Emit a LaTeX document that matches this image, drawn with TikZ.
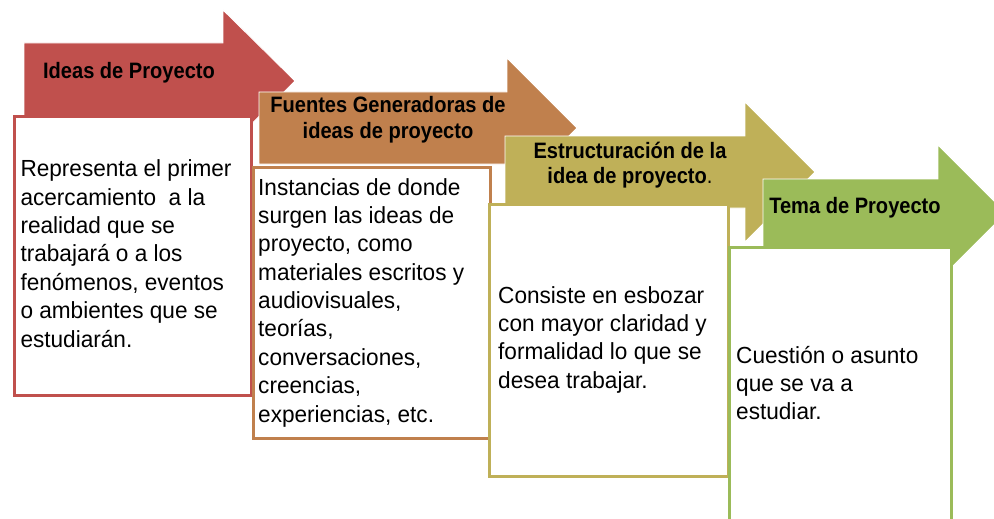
\documentclass[tikz,border=0pt]{standalone}
\usepackage{fontspec}
\setmainfont{Liberation Sans}
\newfontfamily\headfont{Liberation Sans}[FakeStretch=0.9]
\newfontfamily\bodyfont{Liberation Sans}[FakeStretch=0.97]
\definecolor{cA}{HTML}{C0504D}
\definecolor{cB}{HTML}{C0804D}
\definecolor{cC}{HTML}{BFB058}
\definecolor{cD}{HTML}{9BBB59}
\newcommand\bodytext[1]{\parbox[t]{240pt}{\bodyfont\fontsize{23.3}{28.4}\selectfont\raggedright #1}}
\newcommand\headtext[1]{\parbox[t]{300pt}{\headfont\fontsize{22.3}{25.5}\selectfont\bfseries\centering #1}}
\begin{document}
\begin{tikzpicture}[x=1pt,y=-1pt,
  arrowshape/.style={fill=#1, draw=white, line width=0.8pt},
  textbox/.style={draw=#1, fill=white, line width=2.6pt, inner sep=0pt, anchor=north west},
  bodynode/.style={anchor=base west, inner sep=0pt},
  headnode/.style={anchor=base, inner sep=0pt}]
\useasboundingbox (0,0) rectangle (994,519);
\clip (0,0) rectangle (994,519);
% step 1
\path[arrowshape=cA] (24,43) -- (223,43) -- (223,10) -- (295,81) -- (223,152) -- (223,119) -- (24,119) -- cycle;
\node[textbox=cA, minimum width=237pt, minimum height=279pt] (box1) at (13,115) {};
\node[headnode] (h1) at (129,79) {\headtext{Ideas de Proyecto}};
\node[bodynode] (t1) at (20.3,176.7) {\bodytext{Representa el primer\\acercamiento \ a la\\realidad que se\\trabajará o a los\\fenómenos, eventos\\o ambientes que se\\estudiarán.}};
% step 2
\path[arrowshape=cB] (259,92) -- (507,92) -- (507,58) -- (577,128) -- (507,198) -- (507,164) -- (259,164) -- cycle;
\node[textbox=cB, minimum width=237pt, minimum height=271pt] (box2) at (252,166) {};
\node[headnode] (h2) at (388,113) {\headtext{Fuentes Generadoras de\\ideas de proyecto}};
\node[bodynode] (t2) at (258,195) {\bodytext{Instancias de donde\\surgen las ideas de\\proyecto, como\\materiales escritos y\\audiovisuales,\\teorías,\\conversaciones,\\creencias,\\experiencias, etc.}};
% step 3
\path[arrowshape=cC] (505,136) -- (745,136) -- (745,102) -- (815,172) -- (745,242) -- (745,208) -- (505,208) -- cycle;
\node[textbox=cC, minimum width=239pt, minimum height=272pt] (box3) at (488,203) {};
\node[headnode] (h3) at (630,158) {\headtext{Estructuración de la\\idea de proyecto{\mdseries .}}};
\node[bodynode] (t3) at (498,303) {\bodytext{Consiste en esbozar\\con mayor claridad y\\formalidad lo que se\\desea trabajar.}};
% step 4
\path[arrowshape=cD] (763,179) -- (938,179) -- (938,145) -- (1006,213) -- (938,281) -- (938,247) -- (763,247) -- cycle;
\node[textbox=cD, minimum width=222pt, minimum height=294pt] (box4) at (728,246) {};
\node[headnode] (h4) at (855,213) {\headtext{Tema de Proyecto}};
\node[bodynode] (t4) at (736,363) {\bodytext{Cuestión o asunto\\que se va a\\estudiar.}};
\end{tikzpicture}
\end{document}
